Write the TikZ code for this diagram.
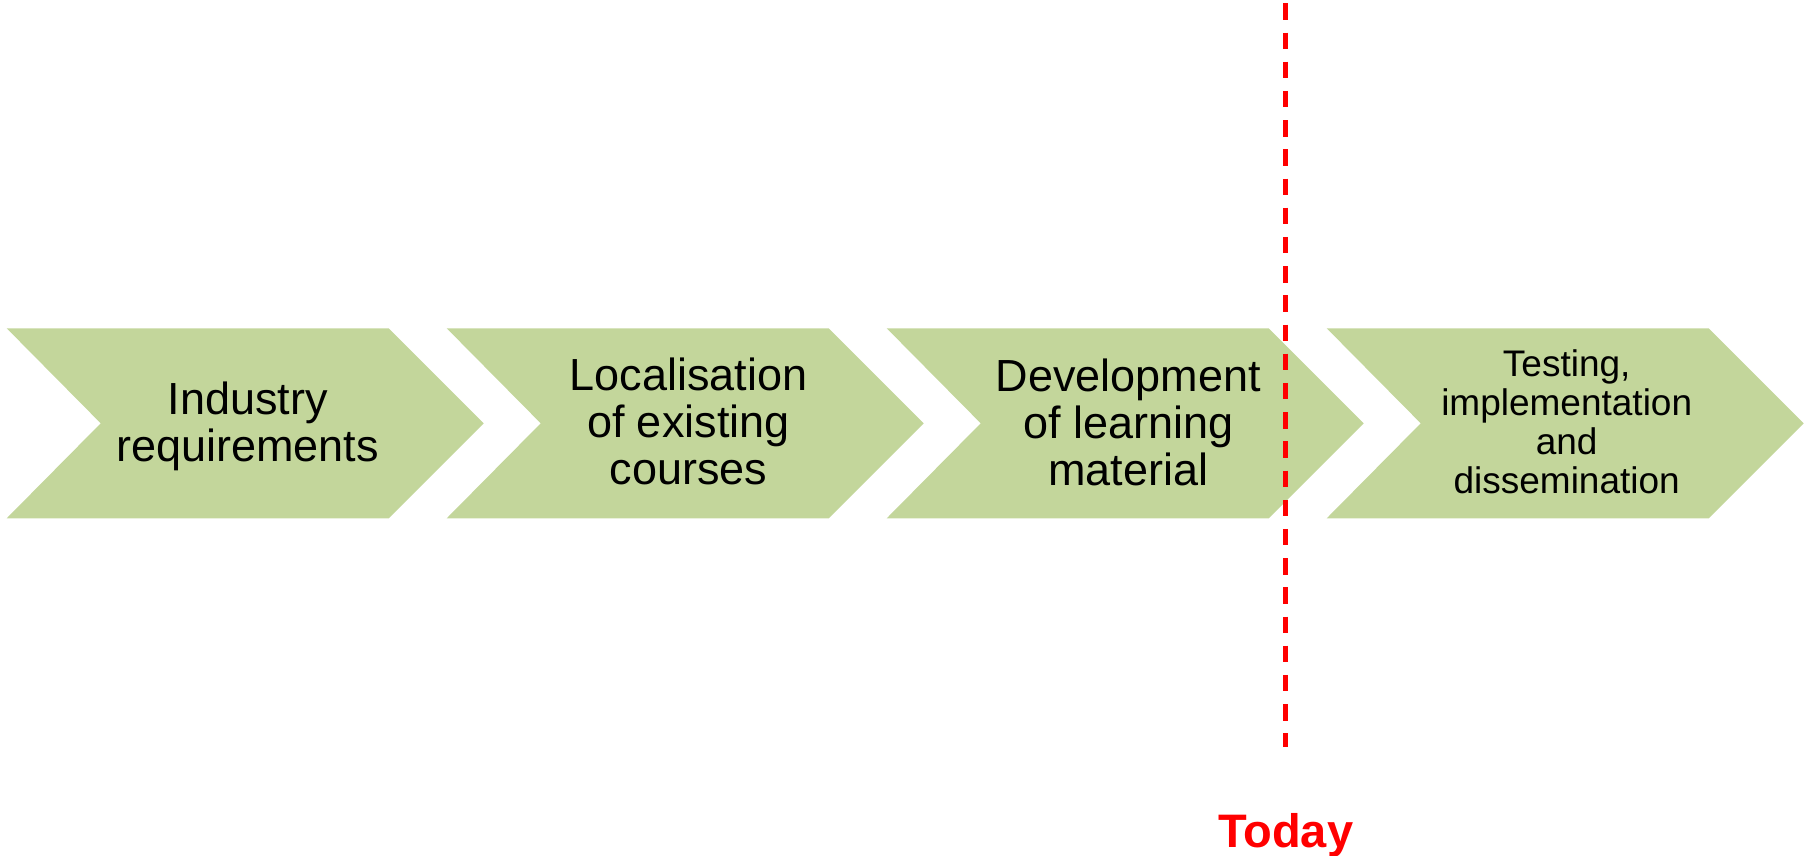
\documentclass[tikz,border=0pt]{standalone}
\usepackage{fontspec}
\setmainfont{Liberation Sans}
\definecolor{chevgreen}{HTML}{C3D69B}
\definecolor{todayred}{HTML}{FF0000}
\begin{document}
\begin{tikzpicture}[x=1pt,y=-1pt,
  chevron/.pic={\fill[chevgreen] (0,-95) -- (382,-95) -- (477,0) -- (382,95) -- (0,95) -- (94,0) -- cycle;},
  steplabel/.style={align=center,inner sep=0pt,text=black,font=\fontsize{45}{47}\selectfont},
  smalllabel/.style={align=center,inner sep=0pt,text=black,font=\fontsize{37}{38.7}\selectfont},
  todayline/.style={draw=todayred,line width=4.5pt,dash pattern=on 16.5pt off 12.7pt}]
\useasboundingbox (0,0) rectangle (1812,855);

% four process chevrons
\foreach \i in {0,1,2,3}
  \pic at ({6.7+440*\i},423.3) {chevron};

% step captions
\node[steplabel] (s1) at (247.7,426.5) {Industry\\requirements};
\node[steplabel] (s2) at (688.3,421.7) {Localisation\\of existing\\courses};
\node[steplabel] (s3) at (1128.3,422.5) {Development\\of learning\\material};
\node[smalllabel] (s4) at (1566.7,421.8) {Testing,\\implementation\\and\\dissemination};

% marker for the current date
\node[anchor=base,inner sep=0pt,text=todayred,font=\fontsize{47}{50}\selectfont\bfseries] (today) at (1285.7,847.7) {Today};
\coordinate (linetop) at (1285.7,3.3);
\coordinate (linebot) at (1285.7,746.7);
\draw[todayline] (linetop) -- (linebot);
\end{tikzpicture}
\end{document}
